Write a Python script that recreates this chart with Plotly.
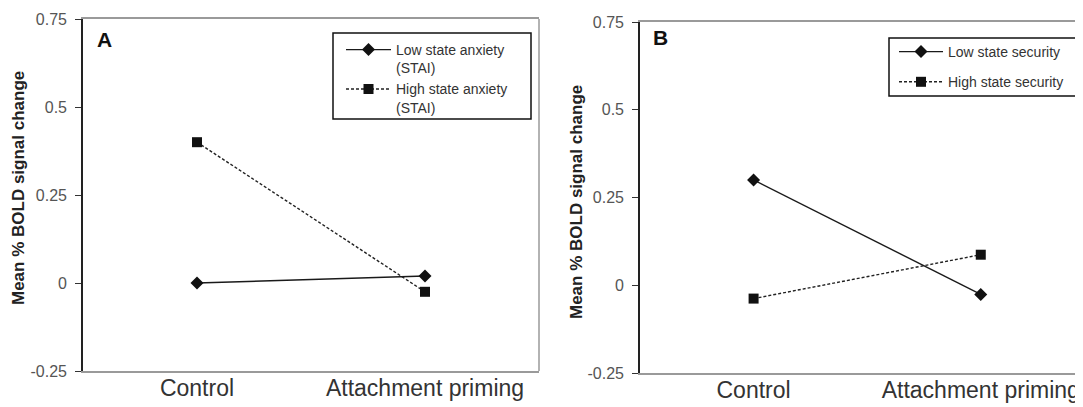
import plotly.graph_objects as go

categories = ["Control", "Attachment priming"]
y_ticks = [-0.25, 0, 0.25, 0.5, 0.75]
y_tick_labels = ["-0.25", "0", "0.25", "0.5", "0.75"]

# Panel A
low_anxiety = [0.0, 0.02]
high_anxiety = [0.40, -0.025]
# Panel B
low_security = [0.30, -0.026]
high_security = [-0.038, 0.087]

# page has an 8px body margin; figure sized to fill the window after it
OFF = 8
W, H = 1083 - OFF, 407 - OFF
FONT = "Liberation Sans, Arial, sans-serif"


def px_x(p):
    return (p - OFF) / W


def px_y(p):
    return 1 - (p - OFF) / H


fig = go.Figure()

solid = dict(color="#1a1a1a", width=1.4)
dotted = dict(color="#222222", width=1.4, dash="3px,2px")

fig.add_trace(go.Scatter(x=[0, 1], y=low_anxiety, mode="lines+markers",
                         name="Low state anxiety<br>(STAI)", line=solid,
                         marker=dict(symbol="diamond", size=10, color="#111"),
                         xaxis="x", yaxis="y", legend="legend"))
fig.add_trace(go.Scatter(x=[0, 1], y=high_anxiety, mode="lines+markers",
                         name="High state anxiety<br>(STAI)", line=dotted,
                         marker=dict(symbol="square", size=10, color="#111"),
                         xaxis="x", yaxis="y", legend="legend"))
fig.add_trace(go.Scatter(x=[0, 1], y=low_security, mode="lines+markers",
                         name="Low state security", line=solid,
                         marker=dict(symbol="diamond", size=10, color="#111"),
                         xaxis="x2", yaxis="y2", legend="legend2",
                         legendgroup="b1"))
fig.add_trace(go.Scatter(x=[0, 1], y=high_security, mode="lines+markers",
                         name="High state security", line=dotted,
                         marker=dict(symbol="square", size=10, color="#111"),
                         xaxis="x2", yaxis="y2", legend="legend2",
                         legendgroup="b2"))

xcommon = dict(tickmode="array", tickvals=[0, 1], ticktext=categories,
               showgrid=False, zeroline=False, showline=True, linecolor="#9a9a9a",
               linewidth=1.5, mirror=True, ticks="", ticklabelstandoff=-4,
               tickfont=dict(family=FONT, size=23, color="#333333"),
               automargin=False, fixedrange=True)
ycommon = dict(range=[-0.25, 0.75], tickmode="array", tickvals=y_ticks,
               ticktext=y_tick_labels, showgrid=False, zeroline=False,
               showline=True, linecolor="#222222", linewidth=1.6, mirror=False,
               ticks="outside", ticklen=6, tickwidth=1.4, tickcolor="#333",
               ticklabelstandoff=5,
               tickfont=dict(family=FONT, size=16, color="#555555"),
               automargin=False, fixedrange=True)

legend_style = dict(xanchor="left", yanchor="top", borderwidth=0,
                    bgcolor="rgba(0,0,0,0)", valign="top",
                    font=dict(family=FONT, size=14, color="#333"))

fig.update_layout(
    width=W, height=H,
    margin=dict(l=0, r=0, t=0, b=0),
    paper_bgcolor="white", plot_bgcolor="white",
    showlegend=True,
    xaxis=dict(xcommon, domain=[px_x(83), px_x(539)], range=[-0.5, 1.5], anchor="y"),
    yaxis=dict(ycommon, domain=[px_y(371), px_y(19)], anchor="x"),
    xaxis2=dict(xcommon, domain=[px_x(640), 1.0], range=[-0.5, 1.45], anchor="y2"),
    yaxis2=dict(ycommon, domain=[px_y(373), px_y(22)], anchor="x2"),
    legend=dict(legend_style, x=px_x(341), y=px_y(34), itemwidth=45),
    legend2=dict(legend_style, x=px_x(894), y=px_y(36), itemwidth=44,
                 traceorder="grouped", tracegroupgap=9),
    shapes=[
        dict(type="line", xref="x domain", yref="y domain", x0=1, x1=1,
             y0=0, y1=1, line=dict(color="#9a9a9a", width=1.5)),
        dict(type="rect", xref="paper", yref="paper", layer="below",
             x0=px_x(333), x1=px_x(531), y0=px_y(119), y1=px_y(33),
             line=dict(color="#111", width=1.5), fillcolor="white"),
        dict(type="rect", xref="paper", yref="paper", layer="below",
             x0=px_x(889), x1=px_x(1080), y0=px_y(96), y1=px_y(38),
             line=dict(color="#111", width=1.5), fillcolor="white"),
    ],
    annotations=[
        dict(text="<b>A</b>", xref="paper", yref="paper", x=px_x(95), y=px_y(26),
             xanchor="left", yanchor="top", showarrow=False,
             font=dict(family=FONT, size=21, color="#111")),
        dict(text="<b>B</b>", xref="paper", yref="paper", x=px_x(651), y=px_y(24),
             xanchor="left", yanchor="top", showarrow=False,
             font=dict(family=FONT, size=21, color="#111")),
        dict(text="<b>Mean % BOLD signal change</b>", xref="paper", yref="paper",
             x=px_x(18), y=px_y(188), textangle=-90, showarrow=False,
             xanchor="center", yanchor="middle",
             font=dict(family=FONT, size=17, color="#222")),
        dict(text="<b>Mean % BOLD signal change</b>", xref="paper", yref="paper",
             x=px_x(576), y=px_y(202), textangle=-90, showarrow=False,
             xanchor="center", yanchor="middle",
             font=dict(family=FONT, size=17, color="#222")),
    ],
)

fig.write_html("out.html")
